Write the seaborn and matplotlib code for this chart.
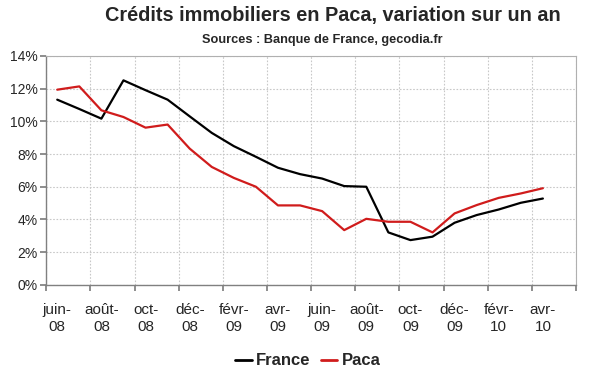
import matplotlib
matplotlib.use("Agg")
import matplotlib.pyplot as plt
import seaborn as sns
import pandas as pd
import numpy as np

months = ["juin-08","juil-08","août-08","sept-08","oct-08","nov-08","déc-08","janv-09",
          "févr-09","mars-09","avr-09","mai-09","juin-09","juil-09","août-09","sept-09",
          "oct-09","nov-09","déc-09","janv-10","févr-10","mars-10","avr-10"]
france = [11.32, 10.75, 10.16, 12.5, 11.9, 11.32, 10.3, 9.29, 8.48, 7.83, 7.16, 6.77,
          6.5, 6.04, 6.0, 3.21, 2.74, 2.95, 3.8, 4.27, 4.61, 5.02, 5.28]
paca = [11.93, 12.13, 10.67, 10.26, 9.61, 9.8, 8.33, 7.21, 6.54, 6.0, 4.86, 4.86,
        4.51, 3.35, 4.04, 3.86, 3.86, 3.21, 4.37, 4.88, 5.32, 5.59, 5.91]
tick_labels = ["juin-\n08","août-\n08","oct-\n08","déc-\n08","févr-\n09","avr-\n09",
               "juin-\n09","août-\n09","oct-\n09","déc-\n09","févr-\n10","avr-\n10"]
series = ["France", "Paca"]
colors = ["#000000", "#d01c1c"]

sns.set_theme(style="white")
plt.rcParams['font.family'] = ['Liberation Sans', 'DejaVu Sans']

df = pd.DataFrame({
    "idx": list(range(len(months))) * 2,
    "val": france + paca,
    "serie": ["France"] * len(months) + ["Paca"] * len(months),
})

fig = plt.figure(figsize=(6, 3.72), dpi=100)
ax = fig.add_axes([0.077, 0.234, 0.883, 0.616])
sns.lineplot(data=df, x="idx", y="val", hue="serie", palette=dict(zip(series, colors)),
             linewidth=1.6, ax=ax, legend=False)

n_cat = 24
ax.set_xlim(-0.5, n_cat - 0.5)
ax.set_ylim(0, 14)
ax.set_yticks(range(0, 15, 2))
ax.set_yticklabels([f"{v}%" for v in range(0, 15, 2)], fontsize=10)
ax.set_xticks(np.arange(-0.5, n_cat, 2))
ax.set_xticklabels([])
ax.set_xticks(np.arange(0, 23, 2), minor=True)
ax.set_xticklabels(tick_labels, minor=True, fontsize=11, linespacing=1.3)
ax.tick_params(axis="x", which="minor", length=0, pad=13)
ax.tick_params(axis="x", which="major", length=4, color="#808080", direction="out", bottom=True)
ax.tick_params(axis="y", length=4, color="#808080", direction="out", left=True, pad=2)
ax.set_xlabel("")
ax.set_ylabel("")
ax.grid(True, which="major", color="#c8c8c8", linestyle=(0, (1.5, 1.5)), linewidth=0.8)
for s in ["left", "bottom"]:
    ax.spines[s].set_color("#808080")
    ax.spines[s].set_linewidth(1.0)
for s in ["top", "right"]:
    ax.spines[s].set_color("#b0b0b0")
    ax.spines[s].set_linewidth(0.8)

fig.text(0.555, 0.957, "Crédits immobiliers en Paca, variation sur un an",
         ha="center", va="center", fontsize=14.3, fontweight="bold")
fig.text(0.537, 0.892, "Sources : Banque de France, gecodia.fr",
         ha="center", va="center", fontsize=9.2, fontweight="bold")

from matplotlib.lines import Line2D
handles = [Line2D([], [], color=c, linewidth=2) for c in colors]
fig.legend(handles, series, loc="center", bbox_to_anchor=(0.513, 0.03), ncol=2,
           frameon=False, handlelength=1.0, handletextpad=0.25, columnspacing=0.6,
           prop={"weight": "bold", "size": 12})

fig.savefig("out.png", dpi=100)
